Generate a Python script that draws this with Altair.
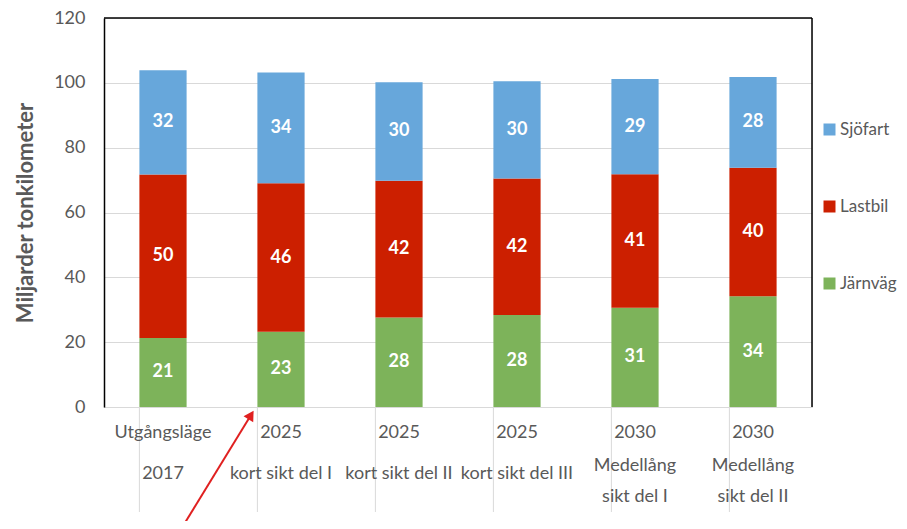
import altair as alt
import pandas as pd

cats = ["c1", "c2", "c3", "c4", "c5", "c6"]
line1 = ["Utgångsläge", "2025", "2025", "2025", "2030", "2030"]
line2 = ["2017", "kort sikt del I", "kort sikt del II", "kort sikt del III",
         "Medellång\nsikt del I", "Medellång\nsikt del II"]
multi = [0, 0, 0, 0, 1, 1]

modes = ["Sjöfart", "Lastbil", "Järnväg"]
colors = ["#67A7DB", "#CC1F00", "#7DB35A"]
jarnvag = [21.3, 23.2, 27.6, 28.4, 30.6, 34.2]
lastbil = [50.4, 45.8, 42.2, 42.1, 41.2, 39.6]
sjofart = [32.2, 34.2, 30.4, 30.0, 29.4, 28.0]

rows = []
for i, c in enumerate(cats):
    rows.append({"cat": c, "mode": "Järnväg", "ord": 0, "value": jarnvag[i]})
    rows.append({"cat": c, "mode": "Lastbil", "ord": 1, "value": lastbil[i]})
    rows.append({"cat": c, "mode": "Sjöfart", "ord": 2, "value": sjofart[i]})
df = pd.DataFrame(rows)
lab = pd.DataFrame({"cat": cats, "l1": line1, "l2": line2, "multi": multi})
one = pd.DataFrame({"d": [0]})

W, H = 708, 389
GRAY = "#595959"
FS = 18

xscale = alt.Scale(paddingInner=0.6, paddingOuter=0.3)
xenc = alt.X("cat:N", sort=cats, scale=xscale,
             axis=alt.Axis(labels=False, ticks=False, grid=False, title=None,
                           domainColor="#d9d9d9", domainWidth=1))

bars = alt.Chart(df).mark_bar().encode(
    x=xenc,
    y=alt.Y("value:Q", stack="zero",
            scale=alt.Scale(domain=[0, 120]),
            axis=alt.Axis(values=[0, 20, 40, 60, 80, 100, 120], ticks=False,
                          domainColor="black", domainWidth=1.5,
                          gridColor="#d9d9d9", gridWidth=1,
                          labelFontSize=FS, labelColor=GRAY, labelPadding=19,
                          title="Miljarder tonkilometer", titleFontSize=22,
                          titleFontWeight="bold", titleColor=GRAY, titlePadding=16)),
    color=alt.Color("mode:N", scale=alt.Scale(domain=modes, range=colors),
                    legend=alt.Legend(orient="none", legendX=717, legendY=103,
                                      title=None, symbolType="square",
                                      symbolSize=144, symbolStrokeWidth=0,
                                      labelFontSize=17, labelColor=GRAY,
                                      rowPadding=59, labelOffset=2, padding=0)),
    order=alt.Order("ord:Q"),
)

vals = alt.Chart(df).transform_stack(
    stack="value", groupby=["cat"], as_=["v0", "v1"],
    sort=[alt.SortField("ord", order="ascending")]
).transform_calculate(mid="(datum.v0 + datum.v1) / 2").mark_text(
    color="white", fontWeight="bold", fontSize=FS, baseline="middle"
).encode(
    x=alt.X("cat:N", sort=cats),
    y=alt.Y("mid:Q"),
    text=alt.Text("value:Q", format=".0f"),
)

seps = alt.Chart(lab).mark_rule(color="#d9d9d9", strokeWidth=1).encode(
    x=alt.X("cat:N", sort=cats, bandPosition=0),
    y=alt.value(H), y2=alt.value(H + 105),
)

t1 = alt.Chart(lab).mark_text(fontSize=FS, color=GRAY, baseline="middle").encode(
    x=alt.X("cat:N", sort=cats), y=alt.value(415), text="l1:N")

t2a = alt.Chart(lab).transform_filter("datum.multi == 0").mark_text(
    fontSize=FS, color=GRAY, baseline="middle").encode(
    x=alt.X("cat:N", sort=cats), y=alt.value(456), text="l2:N")

t2b = alt.Chart(lab).transform_filter("datum.multi == 1").mark_text(
    fontSize=FS, color=GRAY, baseline="top", lineBreak="\n", lineHeight=31).encode(
    x=alt.X("cat:N", sort=cats), y=alt.value(439), text="l2:N")

top = alt.Chart(one).mark_rule(color="black", strokeWidth=1.5).encode(
    x=alt.value(0), x2=alt.value(W), y=alt.value(0))
right = alt.Chart(one).mark_rule(color="black", strokeWidth=1.5).encode(
    x=alt.value(W), y=alt.value(0), y2=alt.value(H))

arrow = alt.Chart(one).mark_rule(color="#E02020", strokeWidth=2).encode(
    x=alt.value(79), y=alt.value(508), x2=alt.value(147), y2=alt.value(397))
head = alt.Chart(one).mark_point(shape="triangle-up", filled=True, color="#E02020",
                                 size=130, angle=32, opacity=1).encode(
    x=alt.value(147), y=alt.value(397))

chart = alt.layer(bars, vals, seps, t1, t2a, t2b, top, right, arrow, head).properties(
    width=W, height=H,
    autosize=alt.AutoSizeParams(type="none"),
    padding={"left": 96, "top": 10, "right": 87, "bottom": 114},
).configure_view(stroke=None).configure(font="Lato")

chart.save("out.html", embed_options={"renderer": "svg", "actions": False})
